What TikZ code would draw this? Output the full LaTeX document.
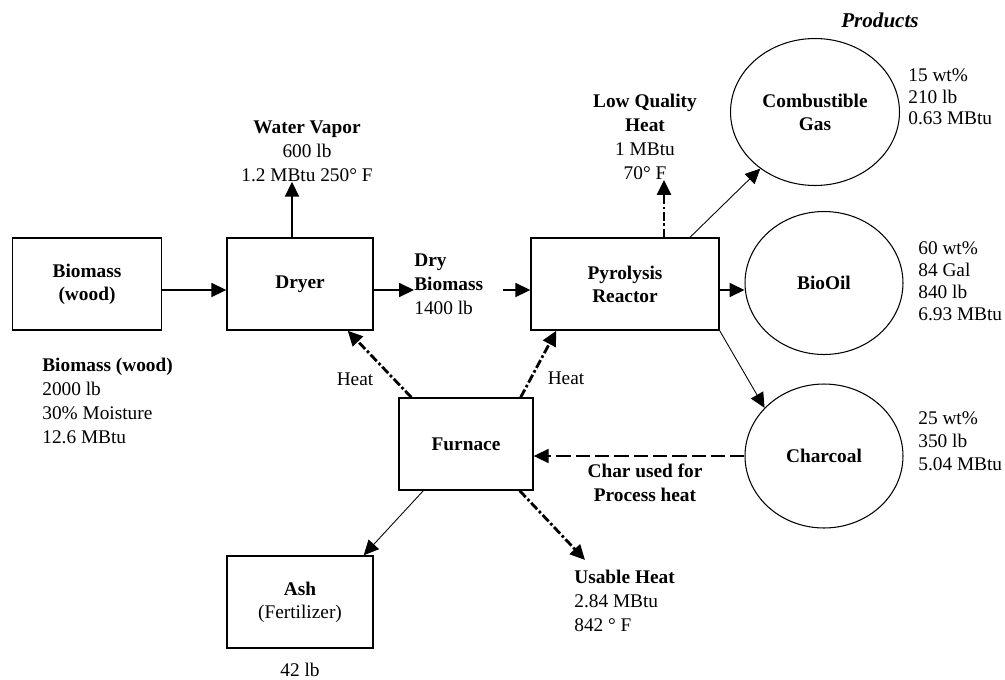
\documentclass[tikz,border=0pt]{standalone}
\usepackage{fontspec}
\setmainfont{Liberation Serif}
\usetikzlibrary{arrows.meta,shapes.geometric}

\tikzset{
  box/.style={draw,line width=0.8pt,minimum height=1.84cm,inner sep=0pt,align=center,font=\fontsize{11}{13.2}\selectfont\bfseries},
  product/.style={draw,ellipse,line width=0.6pt,inner sep=0pt,align=center,font=\fontsize{11}{13.2}\selectfont\bfseries},
  info/.style={inner sep=0pt,align=left,font=\fontsize{11}{13.6}\selectfont},
  arr/.style={-{Triangle[length=8.5pt,width=8pt]}},
  flow/.style={arr,line width=0.8pt},
  thinflow/.style={arr,line width=0.5pt},
  heatflow/.style={arr,line width=1.6pt,dash pattern=on 5pt off 1.5pt on 1.5pt off 1.5pt},
  charflow/.style={arr,line width=0.8pt,dash pattern=on 8pt off 3pt}
}

\begin{document}
\begin{tikzpicture}[x=0.02cm,y=-0.02cm]
\useasboundingbox(0,0)rectangle(1005,680);
% process boxes
\node[box,minimum width=2.98cm](bio)at(87,284){Biomass\\(wood)};
\node[box,minimum width=2.92cm](dryer)at(300,284){Dryer};
\node[box,minimum width=3.76cm](pyro)at(625,284){Pyrolysis\\Reactor};
\node[box,minimum width=2.68cm](furnace)at(466,444){Furnace};
\node[box,minimum width=2.92cm](ash)at(300,602){Ash\\\mdseries(Fertilizer)};
% products
\node[font=\fontsize{12}{14}\selectfont\bfseries\itshape](prod)at(880,20){Products};
\node[product,minimum width=3.38cm,minimum height=2.94cm](gas)at(815,112){Combustible\\Gas};
\node[product,minimum width=3.16cm,minimum height=2.86cm](oil)at(824,283){BioOil};
\node[product,minimum width=3.16cm,minimum height=2.88cm](char)at(824,456){Charcoal};
% stream data
\node[info,align=center](wv)at(307,151){\textbf{Water Vapor}\\600 lb\\1.2 MBtu 250° F};
\node[info,align=center](lq)at(645,137){\textbf{Low Quality}\\\textbf{Heat}\\1 MBtu\\70° F};
\node[info,anchor=west](drytxt)at(414,284){\textbf{Dry}\\\textbf{Biomass}\\1400 lb};
\node[info,anchor=west](bioinfo)at(42,401){\textbf{Biomass (wood)}\\2000 lb\\30\% Moisture\\12.6 MBtu};
\node[info,anchor=west,font=\fontsize{11}{12.2}\selectfont](gasinfo)at(908,97){15 wt\%\\210 lb\\0.63 MBtu};
\node[info,anchor=west,font=\fontsize{11}{12.6}\selectfont](oilinfo)at(918,281){60 wt\%\\84 Gal\\840 lb\\6.93 MBtu};
\node[info,anchor=west,font=\fontsize{11}{13}\selectfont](charinfo)at(918,441){25 wt\%\\350 lb\\5.04 MBtu};
\node[info,align=center,font=\fontsize{11}{13.6}\selectfont\bfseries](charuse)at(645,483){Char used for\\Process heat};
\node[info,anchor=west](usable)at(574,601){\textbf{Usable Heat}\\2.84 MBtu\\842 ° F};
\node[info](ashmass)at(300,670){42 lb};
\node[info](heatA)at(355,379){Heat};
\node[info](heatB)at(566,378){Heat};
\coordinate(drystart)at(503,290);
% flows
\draw[flow]([yshift=-0.12cm]bio.east)--([yshift=-0.12cm]dryer.west);
\draw[flow]([xshift=-0.16cm]dryer.north)--([xshift=-0.16cm]dryer.north |- wv.south);
\draw[flow]([yshift=-0.12cm]dryer.east)--([yshift=-0.12cm]drytxt.west);
\draw[flow](drystart)--(drystart -| pyro.west);
\draw[heatflow]([xshift=0.78cm]pyro.north)--([xshift=0.78cm]pyro.north |- lq.south);
\draw[thinflow]([xshift=1.3cm]pyro.north)--(gas.226);
\draw[flow]([yshift=-0.12cm]pyro.east)--([yshift=-0.12cm]pyro.east -| oil.west);
\draw[thinflow](pyro.south east)--(char.141);
\draw[charflow](char.west)--(char.west -| furnace.east);
\draw[heatflow]([xshift=0.26cm]furnace.north west)--([xshift=-0.52cm]dryer.south east);
\draw[heatflow]([xshift=-0.26cm]furnace.north east)--([xshift=0.52cm]pyro.south west);
\draw[thinflow]([xshift=0.5cm]furnace.south west)--([xshift=-0.2cm]ash.north east);
\draw[heatflow]([xshift=-0.28cm]furnace.south east)--([xshift=0.22cm,yshift=0.2cm]usable.north west);
\end{tikzpicture}
\end{document}
